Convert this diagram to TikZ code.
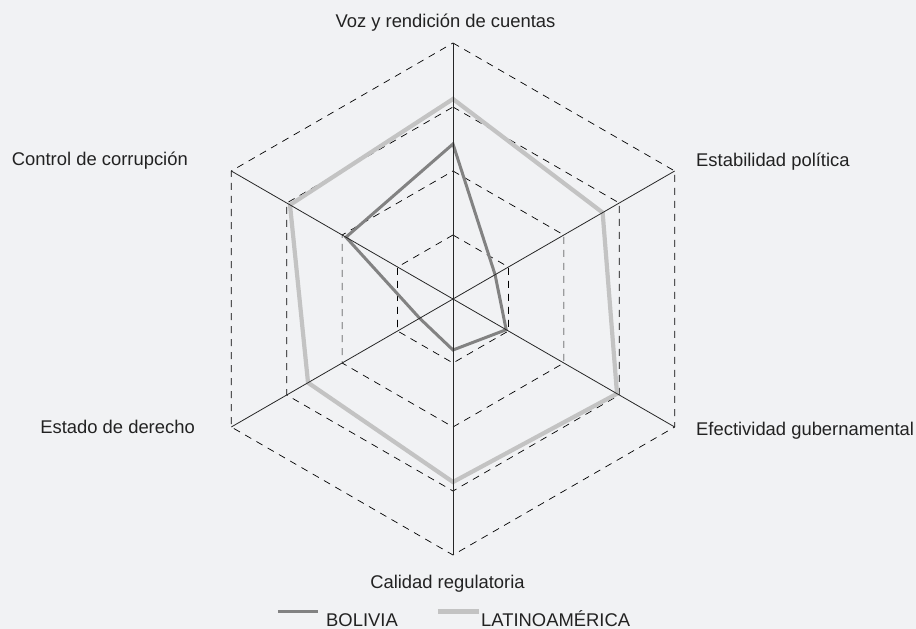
\documentclass[tikz,border=0pt]{standalone}
\usepackage{fontspec}
\setmainfont{Liberation Sans}
\usepackage{tikz}
\usetikzlibrary{positioning}

\definecolor{bgcol}{HTML}{F1F2F4}
\definecolor{txtcol}{HTML}{222222}
\definecolor{bolcol}{HTML}{828282}
\definecolor{latcol}{HTML}{C3C3C3}

\tikzset{
    ring/.style={draw=black, line width=0.7pt, dash pattern=on 7pt off 6pt},
    axis/.style={draw=black!85, line width=0.8pt},
    bolivia/.style={draw=bolcol, line width=3pt, line join=miter},
    latam/.style={draw=latcol, line width=4.2pt, line join=miter},
    label/.style={text=txtcol, inner sep=0pt, font=\fontsize{18.4}{22}\selectfont},
}

\begin{document}
\begin{tikzpicture}[x=1pt, y=1pt]
    \fill[bgcol] (-453,-330) rectangle (463,299);
    \useasboundingbox (-453,-330) rectangle (463,299);

    \coordinate (o) at (0,0);
    \coordinate (voz)  at (90:256);
    \coordinate (est)  at (30:256);
    \coordinate (efe)  at (-30:256);
    \coordinate (cal)  at (-90:256);
    \coordinate (der)  at (-150:256);
    \coordinate (cor)  at (150:256);

    % rings
    \draw[ring] (90:64)  -- (30:64)  -- (-30:64)  -- (-90:64)  -- (-150:64)  -- (150:64)  -- cycle;
    \draw[ring] (90:128) -- (30:128) -- (-30:128) -- (-90:128) -- (-150:128) -- (150:128) -- cycle;
    \draw[ring] (90:192) -- (30:192) -- (-30:192) -- (-90:192) -- (-150:192) -- (150:192) -- cycle;
    \draw[ring] (voz) -- (est) -- (efe) -- (cal) -- (der) -- (cor) -- cycle;

    % series
    \draw[latam]   (90:200) -- (30:172.8) -- (-30:189.4) -- (-90:183) -- (-150:167.4) -- (150:188.2) -- cycle;
    \draw[bolivia] (90:155) -- (30:48.6) -- (-30:61.4) -- (-90:51) -- (-150:38.5) -- (150:123.6) -- cycle;

    % axes
    \path[axis]
        (o) edge (voz)
        (o) edge (est)
        (o) edge (efe)
        (o) edge (cal)
        (o) edge (der)
        (o) edge (cor);

    % labels
    \node[label, anchor=base]      (lvoz) at (-7.5,271)  {Voz y rendición de cuentas};
    \node[label, anchor=base west] (lest) at (243,132)   {Estabilidad política};
    \node[label, anchor=base west] (lefe) at (243,-136)  {Efectividad gubernamental};
    \node[label, anchor=base]      (lcal) at (-5.5,-289) {Calidad regulatoria};
    \node[label, anchor=base east] (lder) at (-258,-134) {Estado de derecho};
    \node[label, anchor=base east] (lcor) at (-265,133)  {Control de corrupción};

    % legend
    \coordinate (b1) at (-175,-312.5);
    \coordinate (b2) at (-135,-312.5);
    \coordinate (l1) at (-15,-312.5);
    \coordinate (l2) at (26,-312.5);
    \draw[bolivia] (b1) -- (b2);
    \draw[latam]   (l1) -- (l2);
    \node[label, anchor=base west] (lbol) at (-127,-327) {BOLIVIA};
    \node[label, anchor=base west] (llat) at (28,-327)   {LATINOAMÉRICA};
\end{tikzpicture}
\end{document}
